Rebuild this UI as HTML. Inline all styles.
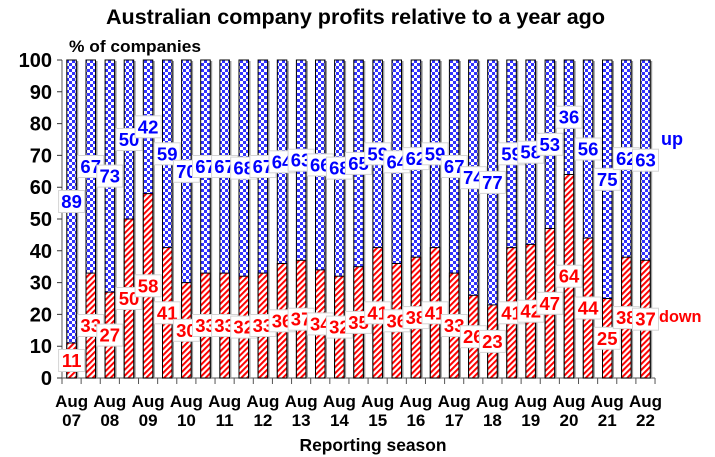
<!DOCTYPE html>
<html><head><meta charset="utf-8"><style>
html,body{margin:0;padding:0;background:#fff;}
svg{display:block;}
text{font-family:"Liberation Sans",Arial,sans-serif;font-weight:bold;}
.bx{fill:#fff;stroke:#d4d4d4;stroke-width:1;}
.dl{fill:#ff0000;font-size:18.5px;text-anchor:middle;}
.ul{fill:#0000ff;font-size:18.5px;text-anchor:middle;}
.yl{font-size:20px;text-anchor:end;fill:#000;}
.xl{font-size:17px;text-anchor:middle;fill:#000;}
.sh{fill:#9a9a9a;}
.bb{fill:url(#chk);stroke:#000;stroke-width:1;}
.rb{fill:url(#str);stroke:#000;stroke-width:1;}
</style></head><body>
<svg width="715" height="457" viewBox="0 0 715 457" xmlns="http://www.w3.org/2000/svg">
<defs>
<pattern id="chk" width="6" height="6" patternUnits="userSpaceOnUse"><rect width="6" height="6" fill="#fff"/><rect width="3" height="3" fill="#3333ff"/><rect x="3" y="3" width="3" height="3" fill="#3333ff"/></pattern>
<pattern id="str" width="4.2" height="4.2" patternUnits="userSpaceOnUse" patternTransform="rotate(45)"><rect width="4.2" height="4.2" fill="#fff"/><rect width="2" height="4.2" fill="#ff0000"/></pattern>
</defs>
<rect width="715" height="457" fill="#fff"/>
<text x="355.5" y="24" font-size="21.5" text-anchor="middle" textLength="499" lengthAdjust="spacingAndGlyphs">Australian company profits relative to a year ago</text>
<text x="69" y="52" font-size="16.5" textLength="132" lengthAdjust="spacingAndGlyphs">% of companies</text>

<!-- y labels -->
<text class="yl" x="52" y="67">100</text>
<text class="yl" x="52" y="98.8">90</text>
<text class="yl" x="52" y="130.6">80</text>
<text class="yl" x="52" y="162.4">70</text>
<text class="yl" x="52" y="194.2">60</text>
<text class="yl" x="52" y="226">50</text>
<text class="yl" x="52" y="257.8">40</text>
<text class="yl" x="52" y="289.6">30</text>
<text class="yl" x="52" y="321.4">20</text>
<text class="yl" x="52" y="353.2">10</text>
<text class="yl" x="52" y="385">0</text>

<!-- axes -->
<path d="M62 60V378H655.03" fill="none" stroke="#777" stroke-width="1.2"/>
<path d="M57 60H62M57 91.8H62M57 123.6H62M57 155.4H62M57 187.2H62M57 219H62M57 250.8H62M57 282.6H62M57 314.4H62M57 346.2H62M57 378H62" stroke="#333" stroke-width="1"/>
<path d="M62 378V384M81.13 378V384M100.26 378V384M119.39 378V384M138.52 378V384M157.65 378V384M176.78 378V384M195.91 378V384M215.04 378V384M234.17 378V384M253.3 378V384M272.43 378V384M291.56 378V384M310.69 378V384M329.82 378V384M348.95 378V384M368.08 378V384M387.21 378V384M406.34 378V384M425.47 378V384M444.6 378V384M463.73 378V384M482.86 378V384M501.99 378V384M521.12 378V384M540.25 378V384M559.38 378V384M578.51 378V384M597.64 378V384M616.77 378V384M635.9 378V384M655.03 378V384" stroke="#555" stroke-width="1"/>

<!-- shadows -->
<g class="sh">
<rect x="68.8" y="61" width="9.5" height="317"/><rect x="88" y="61" width="9.5" height="317"/><rect x="107.1" y="61" width="9.5" height="317"/><rect x="126.2" y="61" width="9.5" height="317"/><rect x="145.3" y="61" width="9.5" height="317"/><rect x="164.5" y="61" width="9.5" height="317"/><rect x="183.6" y="61" width="9.5" height="317"/><rect x="202.7" y="61" width="9.5" height="317"/><rect x="221.9" y="61" width="9.5" height="317"/><rect x="241" y="61" width="9.5" height="317"/><rect x="260.1" y="61" width="9.5" height="317"/><rect x="279.3" y="61" width="9.5" height="317"/><rect x="298.4" y="61" width="9.5" height="317"/><rect x="317.5" y="61" width="9.5" height="317"/><rect x="336.6" y="61" width="9.5" height="317"/><rect x="355.8" y="61" width="9.5" height="317"/><rect x="374.9" y="61" width="9.5" height="317"/><rect x="394" y="61" width="9.5" height="317"/><rect x="413.2" y="61" width="9.5" height="317"/><rect x="432.3" y="61" width="9.5" height="317"/><rect x="451.4" y="61" width="9.5" height="317"/><rect x="470.6" y="61" width="9.5" height="317"/><rect x="489.7" y="61" width="9.5" height="317"/><rect x="508.8" y="61" width="9.5" height="317"/><rect x="527.9" y="61" width="9.5" height="317"/><rect x="547.1" y="61" width="9.5" height="317"/><rect x="566.2" y="61" width="9.5" height="317"/><rect x="585.3" y="61" width="9.5" height="317"/><rect x="604.5" y="61" width="9.5" height="317"/><rect x="623.6" y="61" width="9.5" height="317"/><rect x="642.7" y="61" width="9.5" height="317"/>
</g>
<!-- blue full bars -->
<g class="bb">
<rect x="66.8" y="60" width="9.5" height="318"/><rect x="86" y="60" width="9.5" height="318"/><rect x="105.1" y="60" width="9.5" height="318"/><rect x="124.2" y="60" width="9.5" height="318"/><rect x="143.3" y="60" width="9.5" height="318"/><rect x="162.5" y="60" width="9.5" height="318"/><rect x="181.6" y="60" width="9.5" height="318"/><rect x="200.7" y="60" width="9.5" height="318"/><rect x="219.9" y="60" width="9.5" height="318"/><rect x="239" y="60" width="9.5" height="318"/><rect x="258.1" y="60" width="9.5" height="318"/><rect x="277.3" y="60" width="9.5" height="318"/><rect x="296.4" y="60" width="9.5" height="318"/><rect x="315.5" y="60" width="9.5" height="318"/><rect x="334.6" y="60" width="9.5" height="318"/><rect x="353.8" y="60" width="9.5" height="318"/><rect x="372.9" y="60" width="9.5" height="318"/><rect x="392" y="60" width="9.5" height="318"/><rect x="411.2" y="60" width="9.5" height="318"/><rect x="430.3" y="60" width="9.5" height="318"/><rect x="449.4" y="60" width="9.5" height="318"/><rect x="468.6" y="60" width="9.5" height="318"/><rect x="487.7" y="60" width="9.5" height="318"/><rect x="506.8" y="60" width="9.5" height="318"/><rect x="525.9" y="60" width="9.5" height="318"/><rect x="545.1" y="60" width="9.5" height="318"/><rect x="564.2" y="60" width="9.5" height="318"/><rect x="583.3" y="60" width="9.5" height="318"/><rect x="602.5" y="60" width="9.5" height="318"/><rect x="621.6" y="60" width="9.5" height="318"/><rect x="640.7" y="60" width="9.5" height="318"/>
</g>
<!-- red down bars -->
<g class="rb">
<rect x="66.8" y="343" width="9.5" height="35"/>
<rect x="86" y="273.1" width="9.5" height="104.9"/>
<rect x="105.1" y="292.1" width="9.5" height="85.9"/>
<rect x="124.2" y="219" width="9.5" height="159"/>
<rect x="143.3" y="193.6" width="9.5" height="184.4"/>
<rect x="162.5" y="247.6" width="9.5" height="130.4"/>
<rect x="181.6" y="282.6" width="9.5" height="95.4"/>
<rect x="200.7" y="273.1" width="9.5" height="104.9"/>
<rect x="219.9" y="273.1" width="9.5" height="104.9"/>
<rect x="239" y="276.2" width="9.5" height="101.8"/>
<rect x="258.1" y="273.1" width="9.5" height="104.9"/>
<rect x="277.3" y="263.5" width="9.5" height="114.5"/>
<rect x="296.4" y="260.3" width="9.5" height="117.7"/>
<rect x="315.5" y="269.9" width="9.5" height="108.1"/>
<rect x="334.6" y="276.2" width="9.5" height="101.8"/>
<rect x="353.8" y="266.7" width="9.5" height="111.3"/>
<rect x="372.9" y="247.6" width="9.5" height="130.4"/>
<rect x="392" y="263.5" width="9.5" height="114.5"/>
<rect x="411.2" y="257.2" width="9.5" height="120.8"/>
<rect x="430.3" y="247.6" width="9.5" height="130.4"/>
<rect x="449.4" y="273.1" width="9.5" height="104.9"/>
<rect x="468.6" y="295.3" width="9.5" height="82.7"/>
<rect x="487.7" y="304.9" width="9.5" height="73.1"/>
<rect x="506.8" y="247.6" width="9.5" height="130.4"/>
<rect x="525.9" y="244.4" width="9.5" height="133.6"/>
<rect x="545.1" y="228.5" width="9.5" height="149.5"/>
<rect x="564.2" y="174.5" width="9.5" height="203.5"/>
<rect x="583.3" y="238.1" width="9.5" height="139.9"/>
<rect x="602.5" y="298.5" width="9.5" height="79.5"/>
<rect x="621.6" y="257.2" width="9.5" height="120.8"/>
<rect x="640.7" y="260.3" width="9.5" height="117.7"/>
</g>

<!-- down labels -->
<rect class="bx" x="58.6" y="349.5" width="26" height="22"/><text class="dl" x="71.6" y="367">11</text>
<rect class="bx" x="77.7" y="314.5" width="26" height="22"/><text class="dl" x="90.7" y="332">33</text>
<rect class="bx" x="96.8" y="324.1" width="26" height="22"/><text class="dl" x="109.8" y="341.6">27</text>
<rect class="bx" x="116" y="287.5" width="26" height="22"/><text class="dl" x="129" y="305">50</text>
<rect class="bx" x="135.1" y="274.8" width="26" height="22"/><text class="dl" x="148.1" y="292.3">58</text>
<rect class="bx" x="154.2" y="301.8" width="26" height="22"/><text class="dl" x="167.2" y="319.3">41</text>
<rect class="bx" x="173.4" y="319.3" width="26" height="22"/><text class="dl" x="186.4" y="336.8">30</text>
<rect class="bx" x="192.5" y="314.5" width="26" height="22"/><text class="dl" x="205.5" y="332">33</text>
<rect class="bx" x="211.6" y="314.5" width="26" height="22"/><text class="dl" x="224.6" y="332">33</text>
<rect class="bx" x="230.7" y="316.1" width="26" height="22"/><text class="dl" x="243.7" y="333.6">32</text>
<rect class="bx" x="249.9" y="314.5" width="26" height="22"/><text class="dl" x="262.9" y="332">33</text>
<rect class="bx" x="269" y="309.8" width="26" height="22"/><text class="dl" x="282" y="327.3">36</text>
<rect class="bx" x="288.1" y="308.2" width="26" height="22"/><text class="dl" x="301.1" y="325.7">37</text>
<rect class="bx" x="307.3" y="312.9" width="26" height="22"/><text class="dl" x="320.3" y="330.4">34</text>
<rect class="bx" x="326.4" y="316.1" width="26" height="22"/><text class="dl" x="339.4" y="333.6">32</text>
<rect class="bx" x="345.5" y="311.4" width="26" height="22"/><text class="dl" x="358.5" y="328.9">35</text>
<rect class="bx" x="364.7" y="301.8" width="26" height="22"/><text class="dl" x="377.7" y="319.3">41</text>
<rect class="bx" x="383.8" y="309.8" width="26" height="22"/><text class="dl" x="396.8" y="327.3">36</text>
<rect class="bx" x="402.9" y="306.6" width="26" height="22"/><text class="dl" x="415.9" y="324.1">38</text>
<rect class="bx" x="422" y="301.8" width="26" height="22"/><text class="dl" x="435" y="319.3">41</text>
<rect class="bx" x="441.2" y="314.5" width="26" height="22"/><text class="dl" x="454.2" y="332">33</text>
<rect class="bx" x="460.3" y="325.7" width="26" height="22"/><text class="dl" x="473.3" y="343.2">26</text>
<rect class="bx" x="479.4" y="330.4" width="26" height="22"/><text class="dl" x="492.4" y="347.9">23</text>
<rect class="bx" x="498.6" y="301.8" width="26" height="22"/><text class="dl" x="511.6" y="319.3">41</text>
<rect class="bx" x="517.7" y="300.2" width="26" height="22"/><text class="dl" x="530.7" y="317.7">42</text>
<rect class="bx" x="536.8" y="292.3" width="26" height="22"/><text class="dl" x="549.8" y="309.8">47</text>
<rect class="bx" x="556" y="265.2" width="26" height="22"/><text class="dl" x="569" y="282.7">64</text>
<rect class="bx" x="575.1" y="297" width="26" height="22"/><text class="dl" x="588.1" y="314.5">44</text>
<rect class="bx" x="594.2" y="327.3" width="26" height="22"/><text class="dl" x="607.2" y="344.8">25</text>
<rect class="bx" x="613.3" y="306.6" width="26" height="22"/><text class="dl" x="626.3" y="324.1">38</text>
<rect class="bx" x="632.5" y="308.2" width="26" height="22"/><text class="dl" x="645.5" y="325.7">37</text>

<!-- up labels -->
<rect class="bx" x="58.6" y="190.5" width="26" height="22"/><text class="ul" x="71.6" y="208">89</text>
<rect class="bx" x="77.7" y="155.5" width="26" height="22"/><text class="ul" x="90.7" y="173">67</text>
<rect class="bx" x="96.8" y="165.1" width="26" height="22"/><text class="ul" x="109.8" y="182.6">73</text>
<rect class="bx" x="116" y="128.5" width="26" height="22"/><text class="ul" x="129" y="146">50</text>
<rect class="bx" x="135.1" y="115.8" width="26" height="22"/><text class="ul" x="148.1" y="133.3">42</text>
<rect class="bx" x="154.2" y="142.8" width="26" height="22"/><text class="ul" x="167.2" y="160.3">59</text>
<rect class="bx" x="173.4" y="160.3" width="26" height="22"/><text class="ul" x="186.4" y="177.8">70</text>
<rect class="bx" x="192.5" y="155.5" width="26" height="22"/><text class="ul" x="205.5" y="173">67</text>
<rect class="bx" x="211.6" y="155.5" width="26" height="22"/><text class="ul" x="224.6" y="173">67</text>
<rect class="bx" x="230.7" y="157.1" width="26" height="22"/><text class="ul" x="243.7" y="174.6">68</text>
<rect class="bx" x="249.9" y="155.5" width="26" height="22"/><text class="ul" x="262.9" y="173">67</text>
<rect class="bx" x="269" y="150.8" width="26" height="22"/><text class="ul" x="282" y="168.3">64</text>
<rect class="bx" x="288.1" y="149.2" width="26" height="22"/><text class="ul" x="301.1" y="166.7">63</text>
<rect class="bx" x="307.3" y="153.9" width="26" height="22"/><text class="ul" x="320.3" y="171.4">66</text>
<rect class="bx" x="326.4" y="157.1" width="26" height="22"/><text class="ul" x="339.4" y="174.6">68</text>
<rect class="bx" x="345.5" y="152.4" width="26" height="22"/><text class="ul" x="358.5" y="169.9">65</text>
<rect class="bx" x="364.7" y="142.8" width="26" height="22"/><text class="ul" x="377.7" y="160.3">59</text>
<rect class="bx" x="383.8" y="150.8" width="26" height="22"/><text class="ul" x="396.8" y="168.3">64</text>
<rect class="bx" x="402.9" y="147.6" width="26" height="22"/><text class="ul" x="415.9" y="165.1">62</text>
<rect class="bx" x="422" y="142.8" width="26" height="22"/><text class="ul" x="435" y="160.3">59</text>
<rect class="bx" x="441.2" y="155.5" width="26" height="22"/><text class="ul" x="454.2" y="173">67</text>
<rect class="bx" x="460.3" y="166.7" width="26" height="22"/><text class="ul" x="473.3" y="184.2">74</text>
<rect class="bx" x="479.4" y="171.4" width="26" height="22"/><text class="ul" x="492.4" y="188.9">77</text>
<rect class="bx" x="498.6" y="142.8" width="26" height="22"/><text class="ul" x="511.6" y="160.3">59</text>
<rect class="bx" x="517.7" y="141.2" width="26" height="22"/><text class="ul" x="530.7" y="158.7">58</text>
<rect class="bx" x="536.8" y="133.3" width="26" height="22"/><text class="ul" x="549.8" y="150.8">53</text>
<rect class="bx" x="556" y="106.2" width="26" height="22"/><text class="ul" x="569" y="123.7">36</text>
<rect class="bx" x="575.1" y="138" width="26" height="22"/><text class="ul" x="588.1" y="155.5">56</text>
<rect class="bx" x="594.2" y="168.3" width="26" height="22"/><text class="ul" x="607.2" y="185.8">75</text>
<rect class="bx" x="613.3" y="147.6" width="26" height="22"/><text class="ul" x="626.3" y="165.1">62</text>
<rect class="bx" x="632.5" y="149.2" width="26" height="22"/><text class="ul" x="645.5" y="166.7">63</text>

<text x="661" y="145" font-size="18" fill="#0000ff">up</text>
<text x="659" y="322" font-size="16.5" fill="#ff0000" textLength="42.5" lengthAdjust="spacingAndGlyphs">down</text>

<!-- x labels -->
<g class="xl">
<text x="71.6" y="407">Aug</text><text x="71.6" y="426">07</text>
<text x="109.8" y="407">Aug</text><text x="109.8" y="426">08</text>
<text x="148.1" y="407">Aug</text><text x="148.1" y="426">09</text>
<text x="186.4" y="407">Aug</text><text x="186.4" y="426">10</text>
<text x="224.6" y="407">Aug</text><text x="224.6" y="426">11</text>
<text x="262.9" y="407">Aug</text><text x="262.9" y="426">12</text>
<text x="301.1" y="407">Aug</text><text x="301.1" y="426">13</text>
<text x="339.4" y="407">Aug</text><text x="339.4" y="426">14</text>
<text x="377.7" y="407">Aug</text><text x="377.7" y="426">15</text>
<text x="415.9" y="407">Aug</text><text x="415.9" y="426">16</text>
<text x="454.2" y="407">Aug</text><text x="454.2" y="426">17</text>
<text x="492.4" y="407">Aug</text><text x="492.4" y="426">18</text>
<text x="530.7" y="407">Aug</text><text x="530.7" y="426">19</text>
<text x="569" y="407">Aug</text><text x="569" y="426">20</text>
<text x="607.2" y="407">Aug</text><text x="607.2" y="426">21</text>
<text x="645.5" y="407">Aug</text><text x="645.5" y="426">22</text>
</g>
<text x="373" y="451" font-size="17.5" text-anchor="middle" textLength="147" lengthAdjust="spacingAndGlyphs">Reporting season</text>
</svg>
</body></html>
